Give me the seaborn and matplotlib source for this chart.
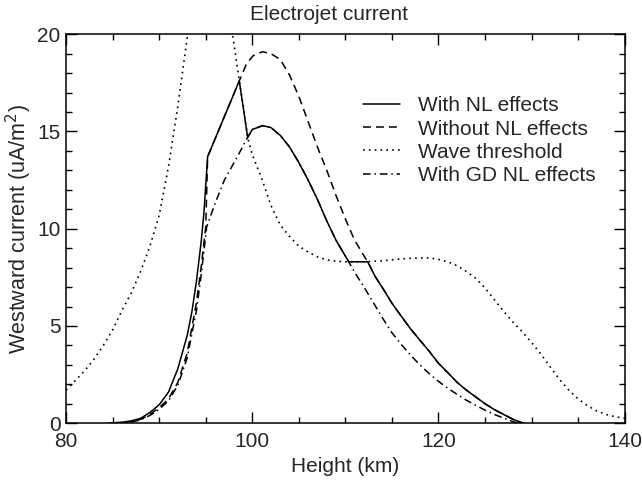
import numpy as np
import pandas as pd
import seaborn as sns
import matplotlib
matplotlib.use("Agg")
import matplotlib.pyplot as plt
from matplotlib.ticker import MultipleLocator

# height (km) / westward current (uA/m^2)
nl_x = [84.5, 86, 87, 88, 89, 90, 91, 92, 93, 93.5, 94, 94.5, 94.8, 95.2,
        98.6, 99.5, 100, 101.1, 102, 103, 104, 105, 106, 107, 108, 109, 110.36,
        112.4, 113.2, 114, 115, 116, 117, 118, 119, 120, 121, 122, 123, 124,
        125, 126, 127, 128, 129.1]
nl_y = [0.0, 0.05, 0.12, 0.25, 0.55, 0.95, 1.6, 2.8, 4.5, 5.7, 7.3, 9.3, 10.8, 13.7,
        17.6, 14.7, 15.1, 15.3, 15.2, 14.8, 14.2, 13.4, 12.5, 11.5, 10.4, 9.4, 8.3,
        8.3, 7.54, 6.95, 6.17, 5.5, 4.85, 4.27, 3.7, 3.08, 2.6, 2.1, 1.7, 1.35,
        1.0, 0.7, 0.45, 0.2, 0.0]

nonl_x = [85, 87, 88, 89, 90, 91, 92, 93, 94, 94.5, 95.0, 95.2, 98.6, 99.4,
          100.1, 101.1, 102, 103, 104, 105, 106, 107, 108, 109, 110, 111, 112,
          112.4, 113.2, 114, 115, 116, 117, 118, 119, 120, 121, 122, 123, 124,
          125, 126, 127, 128, 129.1]
nonl_y = [0.0, 0.08, 0.2, 0.45, 0.8, 1.25, 2.1, 3.6, 6.2, 8.0, 10.1, 13.7, 17.6, 18.5,
          18.9, 19.1, 19.0, 18.7, 17.9, 16.8, 15.5, 14.2, 13.0, 11.7, 10.5, 9.4, 8.6,
          8.3, 7.54, 6.95, 6.17, 5.5, 4.85, 4.27, 3.7, 3.08, 2.6, 2.1, 1.7, 1.35,
          1.0, 0.7, 0.45, 0.2, 0.0]

thr_left_x = [80, 81, 82, 83, 84, 85, 86, 87, 88, 89, 90, 91, 92, 93, 93.2]
thr_left_y = [1.7, 2.2, 2.7, 3.3, 4.0, 4.8, 5.8, 6.7, 7.8, 9.1, 10.7, 13.2, 16.3, 19.8, 20.5]
thr_right_x = [97.7, 98, 98.6, 99, 99.5, 100, 101, 102, 103, 104, 105, 106, 107,
               108, 109, 110, 112, 114, 116, 118, 119, 120, 121, 122, 123, 124,
               125, 126, 127, 128, 129, 130, 131, 132, 133, 134, 135, 136, 137,
               138, 139, 140]
thr_right_y = [20.5, 19.6, 17.6, 16.4, 14.7, 13.8, 12.6, 11.2, 10.2, 9.6, 9.1, 8.8, 8.55,
               8.4, 8.33, 8.3, 8.3, 8.35, 8.45, 8.5, 8.5, 8.42, 8.3, 8.1, 7.8, 7.45,
               6.95, 6.35, 5.75, 5.2, 4.7, 4.15, 3.55, 2.9, 2.25, 1.7, 1.25, 0.9, 0.63,
               0.45, 0.33, 0.25]

gd_x = [85.2, 87, 88, 89, 90, 91, 92, 93, 94, 94.5, 95.1, 96, 97, 98.5, 99.5,
        100, 101.1, 102, 103, 104, 105, 106, 107, 108, 109, 110.36, 111, 112,
        113, 114, 115, 116, 117, 118, 119, 120, 121, 122, 123, 124, 125, 126,
        127, 128, 128.6]
gd_y = [0.0, 0.06, 0.17, 0.4, 0.72, 1.15, 1.95, 3.35, 5.8, 7.6, 10.1, 11.3, 12.5, 13.8, 14.7,
        15.1, 15.3, 15.2, 14.8, 14.2, 13.4, 12.5, 11.5, 10.4, 9.4, 8.3, 7.75, 7.0,
        6.2, 5.4, 4.65, 4.05, 3.5, 3.0, 2.55, 2.15, 1.8, 1.48, 1.18, 0.92, 0.67, 0.45,
        0.26, 0.08, 0.0]

sns.set_style("ticks")
plt.rcParams['font.family'] = ['Liberation Sans', 'DejaVu Sans']

fig = plt.figure(figsize=(6.42, 4.82), dpi=100)
ax = fig.add_axes([0.103, 0.122, 0.870, 0.807])

lw = 1.1
dots = (0, (1, 2.5))
sns.lineplot(x=nl_x, y=nl_y, ax=ax, color="black", lw=lw, sort=False,
             estimator=None, label="With NL effects")
sns.lineplot(x=nonl_x, y=nonl_y, ax=ax, color="black", lw=lw, sort=False,
             estimator=None, linestyle=(0, (5.2, 3.3)), label="Without NL effects")
sns.lineplot(x=thr_left_x, y=thr_left_y, ax=ax, color="black", lw=1.2, sort=False,
             estimator=None, linestyle=dots, label="Wave threshold")
sns.lineplot(x=thr_right_x, y=thr_right_y, ax=ax, color="black", lw=1.2, sort=False,
             estimator=None, linestyle=dots)
sns.lineplot(x=gd_x, y=gd_y, ax=ax, color="black", lw=lw, sort=False,
             estimator=None, linestyle=(0, (5, 2.5, 1, 2.5)), label="With GD NL effects")

ax.set_xlim(80, 140)
ax.set_ylim(0, 20)
ax.xaxis.set_major_locator(MultipleLocator(20))
ax.xaxis.set_minor_locator(MultipleLocator(5))
ax.yaxis.set_major_locator(MultipleLocator(5))
ax.yaxis.set_minor_locator(MultipleLocator(1))
ax.tick_params(which="both", direction="in", top=True, right=True,
               labelsize=15, width=1, color="black")
ax.tick_params(which="major", length=8)
ax.tick_params(axis="x", which="major", pad=6)
ax.tick_params(axis="y", which="major", pad=4)
ax.tick_params(which="minor", length=4)
for s in ax.spines.values():
    s.set_linewidth(1.1)
    s.set_color("black")

ax.set_xlabel("Height (km)", fontsize=15, labelpad=5)
ax.set_ylabel("Westward current (uA/m$^2$)", fontsize=15.5, labelpad=2)
fig.text(0.512, 1 - 14 / 482, "Electrojet current", fontsize=15,
         ha="center", va="center")

ax.legend(loc="upper left", bbox_to_anchor=(0.531, 0.84), frameon=False,
          fontsize=15, handlelength=1.8, handletextpad=0.85, labelspacing=0.2,
          borderpad=0, borderaxespad=0)

fig.savefig("out.png", dpi=100)
